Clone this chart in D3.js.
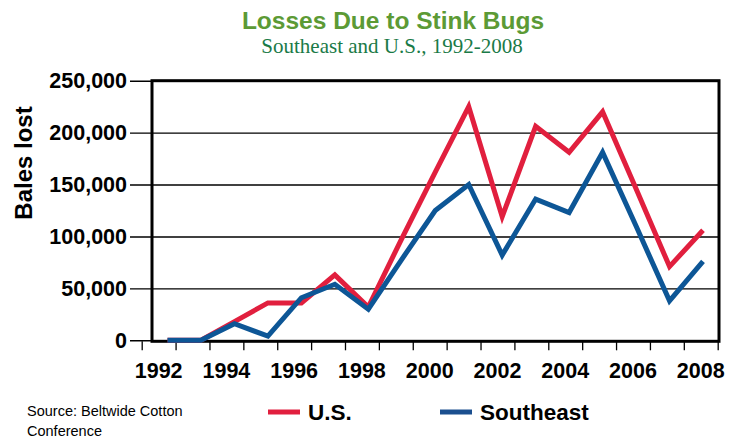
<!DOCTYPE html>
<html lang="en">
<head>
    <meta charset="UTF-8">
    <title>Losses Due to Stink Bugs</title>
    <style>
        body { margin: 0; background: #fff; }
        svg { display: block; font-family: "Liberation Sans", Arial, sans-serif; }
    </style>
</head>
<body>
<svg></svg>
<script src="https://d3js.org/d3.v7.min.js"></script>
<script>
    // values
    var years = [1992, 1993, 1994, 1995, 1996, 1997, 1998, 1999, 2000,
                 2001, 2002, 2003, 2004, 2005, 2006, 2007, 2008];
    var usLoss = [0, 0, 18000, 36000, 36000, 63000, 32000, 98000, 162000,
                  225000, 119000, 206000, 181000, 220000, 146000, 71000, 106000];
    var southeastLoss = [0, 0, 16000, 4000, 41000, 54000, 30000, 78000, 125000,
                         150000, 82000, 136000, 123000, 181000, 110000, 38000, 76000];
    var yTicks = [0, 50000, 100000, 150000, 200000, 250000];
    var xLabels = [1992, 1994, 1996, 1998, 2000, 2002, 2004, 2006, 2008];
    var seriesNames = ["U.S.", "Southeast"];

    var width = 731;
    var height = 441;
    var red = "#e11f3e";
    var blue = "#0d5696";

    // plot frame
    var plotLeft = 152, plotRight = 719, plotTop = 80.7, plotBottom = 340.3;

    var svg = d3.select("svg")
        .attr("width", width)
        .attr("height", height);

    // tick marks sit on year boundaries, labels in between
    var xTick = d3.scaleLinear().domain([1991.5, 2008.5]).range([141.7, 717.7]);
    var x = d3.scaleLinear().domain([1992, 2008]).range([167.5, 703]);
    var y = d3.scaleLinear().domain([0, 250000]).range([plotBottom, plotTop]);

    // titles
    svg.append("text")
        .attr("x", 393).attr("y", 28.5)
        .attr("text-anchor", "middle")
        .style("font-size", "24.5px").style("font-weight", "bold")
        .style("fill", "#5c9a35")
        .text("Losses Due to Stink Bugs");
    svg.append("text")
        .attr("x", 392).attr("y", 52.5)
        .attr("text-anchor", "middle")
        .style("font-family", "'Liberation Serif', 'Times New Roman', serif")
        .style("font-size", "21px")
        .style("fill", "#1a7a47")
        .text("Southeast and U.S., 1992-2008");

    // y axis with gridlines
    var yAxis = d3.axisLeft(y)
        .tickValues(yTicks)
        .tickSize(-(plotRight - 130))
        .tickPadding(3)
        .tickFormat(d3.format(","));
    var gy = svg.append("g")
        .attr("transform", "translate(130,0)")
        .call(yAxis);
    gy.select(".domain").remove();
    gy.selectAll("line").attr("stroke", "#000").attr("stroke-width", 1.4);
    gy.selectAll("text")
        .style("font-size", "21.5px").style("font-weight", "bold")
        .style("font-family", "'Liberation Sans', Arial, sans-serif")
        .attr("fill", "#000");

    svg.append("text")
        .attr("transform", "translate(32,163) rotate(-90)")
        .attr("text-anchor", "middle")
        .style("font-size", "24px").style("font-weight", "bold")
        .text("Bales lost");

    // x axis ticks
    var boundaries = d3.range(1991.5, 2009, 1);
    var xAxis = d3.axisBottom(xTick)
        .tickValues(boundaries)
        .tickSize(9)
        .tickFormat("");
    var gx = svg.append("g")
        .attr("transform", "translate(0," + (plotBottom + 1) + ")")
        .call(xAxis);
    gx.select(".domain").remove();
    gx.selectAll("line").attr("stroke", "#000").attr("stroke-width", 1.3);

    svg.selectAll(".xlabel")
        .data(xLabels)
        .enter().append("text")
        .attr("class", "xlabel")
        .attr("x", function (d) { return xTick(d); })
        .attr("y", 378)
        .attr("text-anchor", "middle")
        .style("font-size", "21.5px").style("font-weight", "bold")
        .text(function (d) { return d; });

    // frame
    svg.append("rect")
        .attr("x", plotLeft).attr("y", plotTop)
        .attr("width", plotRight - plotLeft).attr("height", plotBottom - plotTop + 1)
        .attr("fill", "none")
        .attr("stroke", "#000")
        .attr("stroke-width", 3);

    // lines
    var line = d3.line()
        .x(function (d, i) { return x(years[i]); })
        .y(function (d) { return y(d); });

    svg.append("path")
        .datum(usLoss)
        .attr("d", line)
        .attr("fill", "none")
        .attr("stroke", red)
        .attr("stroke-width", 5)
        .attr("stroke-linejoin", "miter");

    svg.append("path")
        .datum(southeastLoss)
        .attr("d", line)
        .attr("fill", "none")
        .attr("stroke", blue)
        .attr("stroke-width", 5)
        .attr("stroke-linejoin", "miter");

    // legend
    var legendX = [268, 440];
    var legendColors = [red, "#1b4f8f"];
    var legend = svg.selectAll(".legend")
        .data(seriesNames)
        .enter().append("g")
        .attr("class", "legend")
        .attr("transform", function (d, i) { return "translate(" + legendX[i] + ",412)"; });
    legend.append("line")
        .attr("x1", 0).attr("x2", 32)
        .attr("stroke", function (d, i) { return legendColors[i]; })
        .attr("stroke-width", 5);
    legend.append("text")
        .attr("x", 40).attr("y", 8)
        .style("font-size", "22.5px").style("font-weight", "bold")
        .text(function (d) { return d; });

    // source note
    svg.append("text")
        .attr("x", 27).attr("y", 416)
        .style("font-size", "14.5px")
        .text("Source: Beltwide Cotton");
    svg.append("text")
        .attr("x", 27).attr("y", 436)
        .style("font-size", "14.5px")
        .text("Conference");
</script>
</body>
</html>
